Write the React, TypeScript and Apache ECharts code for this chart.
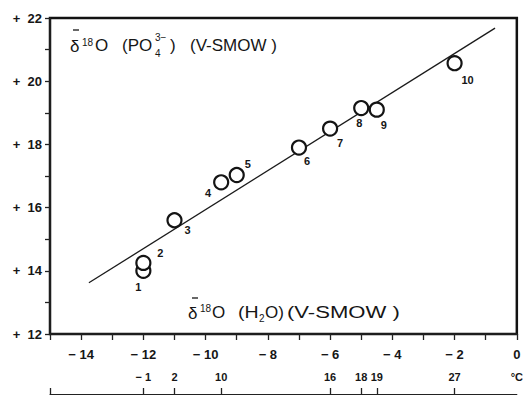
import React, { useEffect, useRef } from 'react';
import * as echarts from 'echarts';

const SAMPLE_IDS = ['1', '2', '3', '4', '5', '6', '7', '8', '9', '10'];
const D18O_WATER = [-12, -12, -11, -9.5, -9, -7, -6, -5, -4.5, -2];
const D18O_PHOSPHATE = [14.0, 14.25, 15.6, 16.8, 17.03, 17.9, 18.5, 19.15, 19.1, 20.57];
const FIT_X = [-13.75, -0.7];
const FIT_Y = [13.62, 21.68];
const X_RANGE = [-15, 0];
const Y_RANGE = [12, 22];
const TEMP_POSITIONS = [-12, -11, -9.5, -6, -5, -4.5, -2, 0];
const TEMP_LABELS = ['− 1', '2', '10', '16', '18', '19', '27', '°C'];
const TEMP_TICKS = [-15, -12, -11, -9.5, -6, -5, -4.5, -2];
const LABEL_OFFSETS = [[-5, 16], [17, -10], [13, 10], [-13, 11], [11, -11], [8, 13], [10, 14], [-2, 15], [7, 15], [13, 17]];

const FONT = '"Liberation Sans", Arial, sans-serif';
const INK = '#161616';

function txt(text: string, x: number, y: number, size: number, scaleX = 1) {
  return {
    type: 'text',
    x,
    y,
    scaleX,
    z: 10,
    style: {
      text,
      fill: INK,
      fontSize: size,
      fontFamily: FONT,
      textAlign: 'left',
      textVerticalAlign: 'middle',
      align: 'left',
      verticalAlign: 'middle',
    },
  };
}

function seg(x1: number, y1: number, x2: number, y2: number, w = 1.3) {
  return {
    type: 'line',
    z: 20,
    shape: { x1, y1, x2, y2 },
    style: { stroke: INK, lineWidth: w },
  };
}

export default function App() {
  const ref = useRef<HTMLDivElement>(null);
  useEffect(() => {
    if (!ref.current) return;
    const chart = echarts.init(ref.current, null, { renderer: 'svg' });
    const points = D18O_WATER.map((x, i) => ({
      value: [x, D18O_PHOSPHATE[i]],
      name: SAMPLE_IDS[i],
      label: { offset: LABEL_OFFSETS[i] },
    }));
    const axisLabelStyle = { color: INK, fontFamily: FONT, fontWeight: 'bold', fontSize: 13 };
    chart.setOption({
      animation: false,
      backgroundColor: '#ffffff',
      grid: {
        left: 50,
        right: 6,
        top: 18,
        bottom: 62,
        show: true,
        borderColor: '#111111',
        borderWidth: 2.5,
      },
      xAxis: [
        {
          type: 'value',
          min: X_RANGE[0],
          max: X_RANGE[1],
          interval: 1,
          position: 'bottom',
          axisLine: { show: true, onZero: false, lineStyle: { color: '#222', width: 1.5 } },
          axisTick: { show: true, length: 6, lineStyle: { color: '#222', width: 1.3 } },
          splitLine: { show: false },
          axisLabel: {
            ...axisLabelStyle,
            margin: 14,
            showMinLabel: true,
            showMaxLabel: true,
            formatter: (v: number) => (v === 0 ? '0' : v % 2 === 0 ? '− ' + Math.abs(v) : ''),
          },
        },
        {
          type: 'value',
          min: X_RANGE[0],
          max: X_RANGE[1],
          position: 'bottom',
          offset: 60,
          axisLine: { show: true, onZero: false, lineStyle: { color: '#222', width: 1.2 } },
          axisTick: {
            show: true,
            inside: true,
            length: 6,
            customValues: TEMP_TICKS,
            lineStyle: { color: '#222', width: 1.3 },
          },
          splitLine: { show: false },
          axisLabel: {
            ...axisLabelStyle,
            fontSize: 11,
            inside: true,
            margin: 12,
            customValues: TEMP_POSITIONS,
            formatter: (v: number) => {
              const i = TEMP_POSITIONS.indexOf(v);
              return i >= 0 ? TEMP_LABELS[i] : '';
            },
          },
        },
      ],
      yAxis: {
        type: 'value',
        min: Y_RANGE[0],
        max: Y_RANGE[1],
        interval: 1,
        position: 'left',
        axisLine: { show: true, onZero: false, lineStyle: { color: '#222', width: 1.5 } },
        axisTick: { show: true, length: 5, lineStyle: { color: '#222', width: 1.3 } },
        splitLine: { show: false },
        axisLabel: {
          ...axisLabelStyle,
          margin: 8,
          showMinLabel: true,
          showMaxLabel: true,
          formatter: (v: number) => (v % 2 === 0 ? '+  ' + v : ''),
        },
      },
      series: [
        {
          type: 'line',
          xAxisIndex: 0,
          yAxisIndex: 0,
          data: FIT_X.map((x, i) => [x, FIT_Y[i]]),
          symbol: 'none',
          lineStyle: { color: '#1a1a1a', width: 1.3 },
          z: 2,
          silent: true,
        },
        {
          type: 'scatter',
          xAxisIndex: 0,
          yAxisIndex: 0,
          data: points,
          symbol: 'circle',
          symbolSize: 14,
          itemStyle: { color: '#ffffff', borderColor: '#141414', borderWidth: 2.2, opacity: 1 },
          label: {
            show: true,
            position: 'inside',
            formatter: (p: any) => p.name,
            color: INK,
            fontFamily: FONT,
            fontWeight: 'bold',
            fontSize: 11,
          },
          z: 5,
        },
      ],
      graphic: [
        // top label: δ18O (PO4 3−)(V-SMOW)
        txt('δ', 70, 46, 17),
        seg(73, 30, 79, 30),
        txt('18', 82, 42, 10),
        txt('O', 95, 45, 17),
        txt('(PO', 122, 45, 17),
        txt('4', 155, 53, 10),
        txt('3−', 155, 37, 10),
        txt(')', 170, 45, 17),
        txt('(V-SMOW )', 190, 45, 17),
        // bottom label: δ18O (H2O)(V-SMOW)
        txt('δ', 188, 313, 17),
        seg(192, 298, 198, 298),
        txt('18', 200, 308, 10),
        txt('O', 212, 312, 17),
        txt('(H', 238, 312, 17, 1.15),
        txt('2', 259, 318, 10),
        txt('O)', 265, 312, 17),
        txt('(V-SMOW )', 287, 312, 17, 1.3),
      ],
    });
    return () => chart.dispose();
  }, []);
  return (
    <div
      ref={ref}
      style={{ position: 'fixed', left: 0, top: 0, width: 526, height: 396, background: '#fff' }}
    />
  );
}
